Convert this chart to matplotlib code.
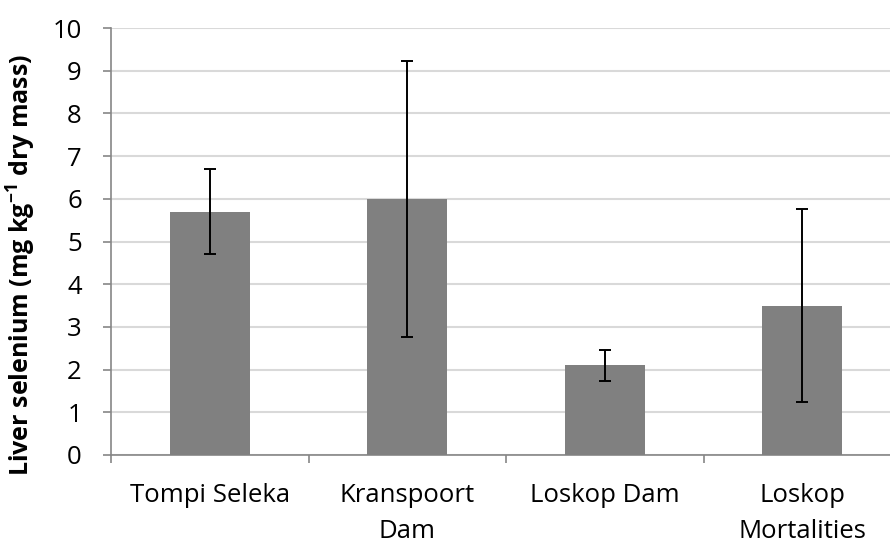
import matplotlib.pyplot as plt
import numpy as np

plt.rcParams['font.family'] = ['Open Sans', 'DejaVu Sans']
plt.rcParams['mathtext.fontset'] = 'custom'
plt.rcParams['mathtext.rm'] = 'Open Sans'
plt.rcParams['mathtext.bf'] = 'Open Sans:bold'

# datos
sitios = ['Tompi Seleka', 'Kranspoort\nDam', 'Loskop Dam', 'Loskop\nMortalities']
selenio = [5.7, 6.0, 2.1, 3.5]
error = [1.0, 3.23, 0.36, 2.25]

fig = plt.figure(figsize=(8.9, 5.48), dpi=100)
ax = fig.add_axes([111 / 890, (548 - 455) / 548, 790 / 890, 427 / 548])

x = np.arange(len(sitios))
ax.bar(x, selenio, width=0.405, color='#808080', zorder=3)
ax.errorbar(x, selenio, yerr=error, fmt='none', ecolor='black',
            elinewidth=1.4, capsize=4.3, capthick=1.4, zorder=4)

ax.set_xlim(-0.5, 3.5)
ax.set_ylim(0, 10)
ax.set_yticks(range(0, 11))
ax.yaxis.grid(True, color='#d9d9d9', linewidth=1.5, zorder=0)
ax.set_axisbelow(True)

ax.set_xticks(x)
ax.set_xticklabels(sitios, fontsize=18.5, linespacing=1.6)
ax.set_xticks(np.arange(-0.5, 4.0, 1.0), minor=True)
ax.tick_params(axis='x', which='major', length=0, pad=20)
ax.tick_params(axis='x', which='minor', length=6, width=1.2, color='#868686')
ax.tick_params(axis='y', length=6, width=1.2, color='#868686', labelsize=18.5, pad=15)

for s in ['top', 'right']:
    ax.spines[s].set_visible(False)
for s in ['left', 'bottom']:
    ax.spines[s].set_color('#868686')
    ax.spines[s].set_linewidth(1.2)

ax.set_ylabel(r'Liver selenium (mg kg$^{\mathbf{-1}}$ dry mass)', fontsize=18,
              fontweight='bold')
ax.yaxis.set_label_coords(-0.093, 0.445)

plt.savefig('out.png', dpi=100)
